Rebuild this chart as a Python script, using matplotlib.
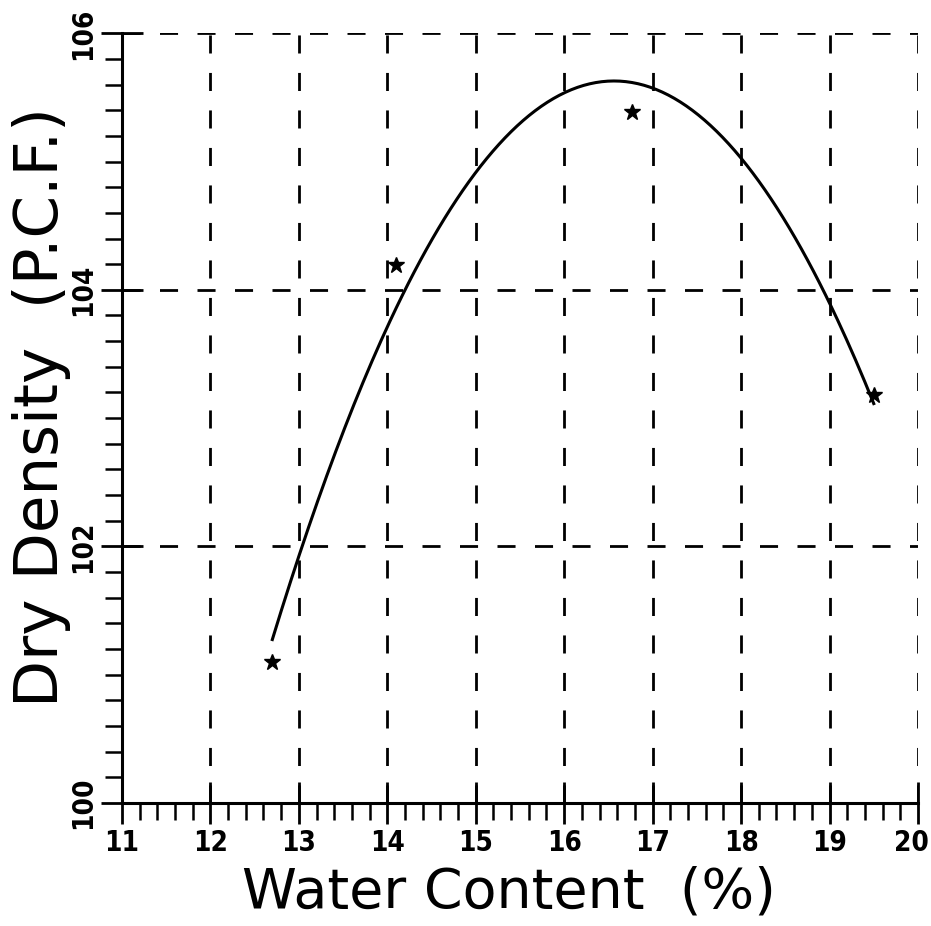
import matplotlib.pyplot as plt
import matplotlib.transforms as mtransforms
import numpy as np

plt.rcParams['lines.scale_dashes'] = False

# Compaction test results
water = [12.70, 14.10, 16.77, 19.50]        # water content (%)
density = [101.10, 104.19, 105.39, 103.18]  # dry density (P.C.F.)

x_ticks = [11, 12, 13, 14, 15, 16, 17, 18, 19, 20]
y_ticks = [100, 102, 104, 106]

# Second order fit through the test points
coef = np.polyfit(water, density, 2)
xs = np.linspace(water[0], water[-1], 200)
ys = np.polyval(coef, xs)

fig = plt.figure(figsize=(9.31, 9.26), dpi=100)
ax = fig.add_axes([0.131, 0.133, 0.855, 0.831])

ax.plot(xs, ys, color='black', lw=2.2, zorder=3)
ax.plot(water, density, ls='none', marker='*', ms=12, color='black', zorder=4)

ax.set_xlim(11, 20)
ax.set_ylim(100, 106)
ax.set_xticks(x_ticks)
ax.set_yticks(y_ticks)
ax.set_xticks(np.arange(11, 20.01, 0.2), minor=True)
ax.set_yticks(np.arange(100, 106.01, 0.2), minor=True)

for v in x_ticks[1:]:
    ax.axvline(v, color='black', lw=2, ls=(0, (13, 14)), zorder=1)
for v in y_ticks[1:]:
    ax.axhline(v, color='black', lw=2, ls=(0, (13, 14)), zorder=1)

ax.spines['top'].set_visible(False)
ax.spines['right'].set_visible(False)
ax.spines['left'].set_linewidth(2.2)
ax.spines['bottom'].set_linewidth(2.2)

ax.tick_params(which='major', direction='inout', length=30, width=2)
ax.tick_params(which='minor', direction='out', length=12, width=1.8)
ax.tick_params(axis='x', labelsize=20, pad=4)
ax.tick_params(axis='y', labelsize=20, labelrotation=90, pad=3)
for lab in ax.get_xticklabels() + ax.get_yticklabels():
    lab.set_fontweight('bold')
    lab.set_fontstretch('condensed')
for lab in ax.get_yticklabels():
    lab.set_va('center')

# pull the last x label in so it stays on the page
last = ax.get_xticklabels()[-1]
last.set_transform(last.get_transform()
                   + mtransforms.ScaledTranslation(-0.07, 0, fig.dpi_scale_trans))

ax.set_xlabel('Water Content  (%)', fontsize=40, va='center')
ax.set_ylabel('Dry Density  (P.C.F.)', fontsize=44, va='center')
ax.xaxis.set_label_coords(0.486, -0.117)
ax.yaxis.set_label_coords(-0.1005, 0.514)

fig.savefig('out.png', dpi=100)
